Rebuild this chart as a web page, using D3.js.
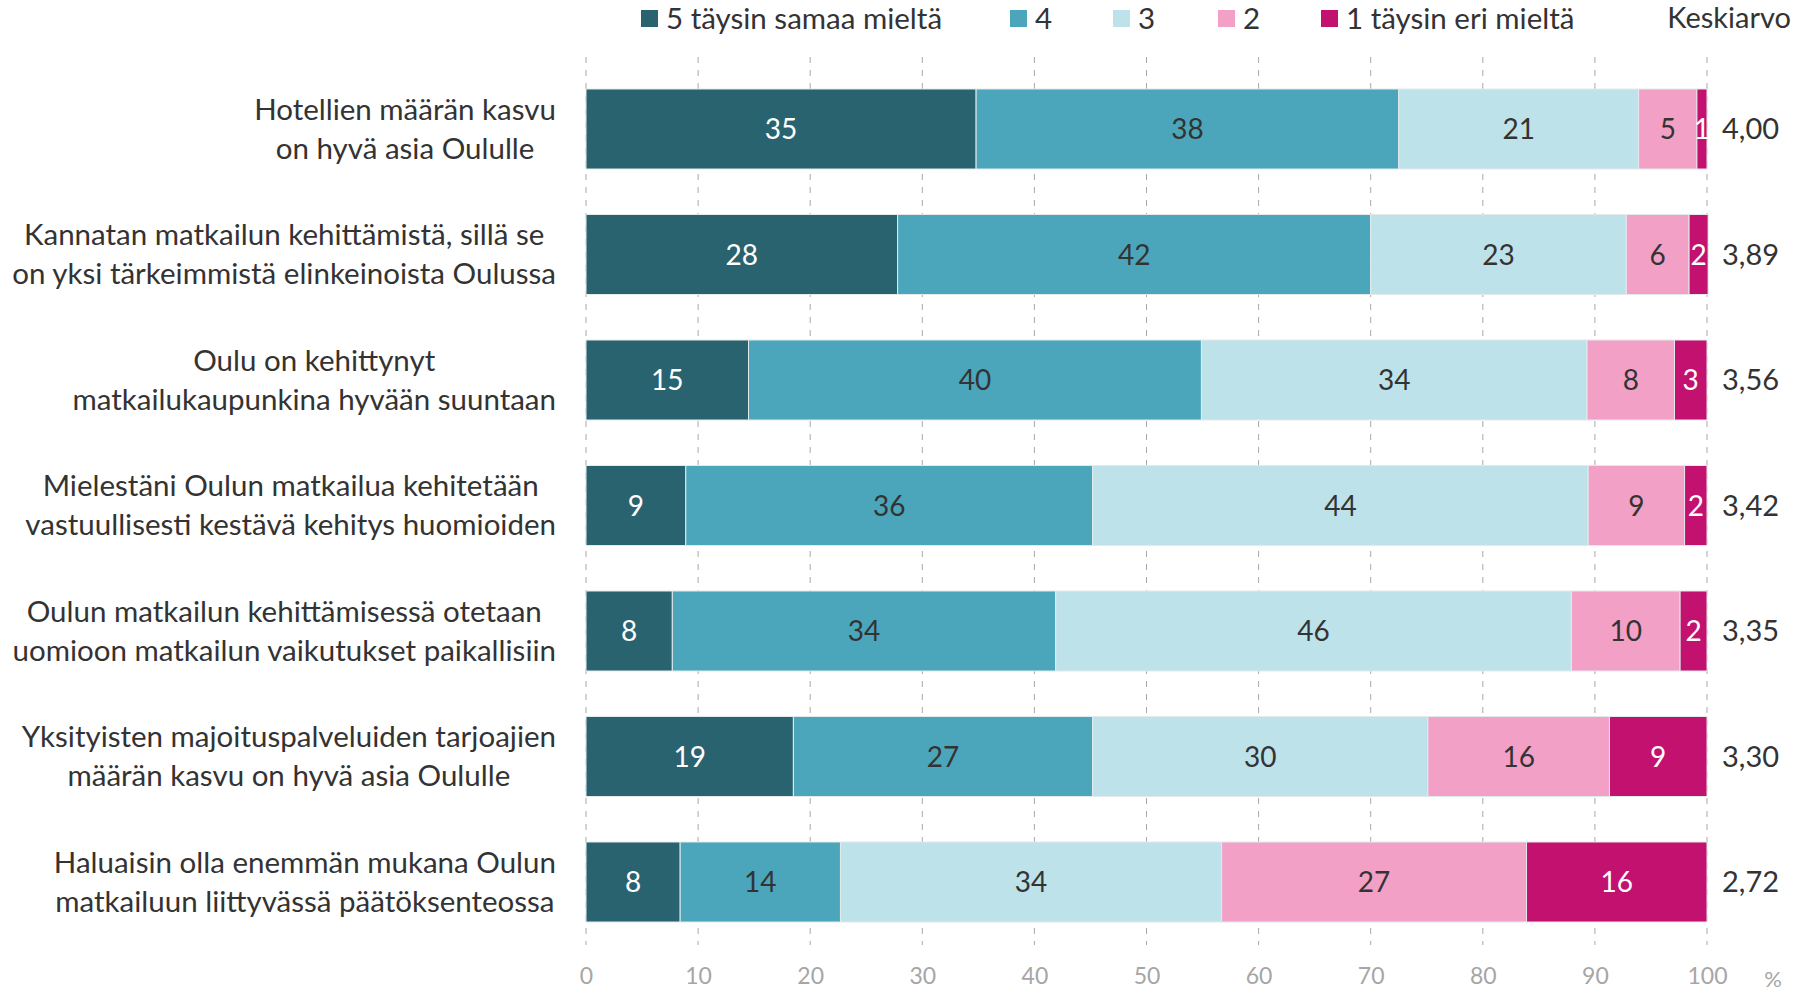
<!DOCTYPE html>
<html>
<head>
<meta charset="utf-8">
<script src="https://cdn.jsdelivr.net/npm/d3@7"></script>
<style>
  body { margin: 0; background: #fff; }
  svg { font-family: Lato, "Open Sans", sans-serif; }
</style>
</head>
<body>
<svg id="chart" width="1794" height="994"></svg>
<script>
// väittämät (kaksi riviä kukin)
const statements = [
  ["Hotellien määrän kasvu", "on hyvä asia Oululle"],
  ["Kannatan matkailun kehittämistä, sillä se", "on yksi tärkeimmistä elinkeinoista Oulussa"],
  ["Oulu on kehittynyt", "matkailukaupunkina hyvään suuntaan"],
  ["Mielestäni Oulun matkailua kehitetään", "vastuullisesti kestävä kehitys huomioiden"],
  ["Oulun matkailun kehittämisessä otetaan", "uomioon matkailun vaikutukset paikallisiin"],
  ["Yksityisten majoituspalveluiden tarjoajien", "määrän kasvu on hyvä asia Oululle"],
  ["Haluaisin olla enemmän mukana Oulun", "matkailuun liittyvässä päätöksenteossa"]
];

const seriesNames = ["5 täysin samaa mieltä", "4", "3", "2", "1 täysin eri mieltä"];
const seriesColors = ["#2a6370", "#4ba6bc", "#bde2ea", "#f3a0c7", "#c2116e"];

// osuudet (%) järjestyksessä 5,4,3,2,1
const s5 = [34.8, 27.8, 14.5, 8.9, 7.7, 18.5, 8.4];
const s4 = [37.7, 42.2, 40.4, 36.3, 34.2, 26.7, 14.3];
const s3 = [21.4, 22.8, 34.4, 44.2, 46.0, 29.9, 34.0];
const s2 = [5.2, 5.6, 7.8, 8.6, 9.7, 16.2, 27.2];
const s1 = [0.9, 1.7, 2.9, 2.0, 2.4, 8.7, 16.1];

const averages = ["4,00", "3,89", "3,56", "3,42", "3,35", "3,30", "2,72"];
const xTicks = [0, 10, 20, 30, 40, 50, 60, 70, 80, 90, 100];

const svg = d3.select("#chart");

const x = d3.scaleLinear().domain([0, 100]).range([586, 1707]);
const y = d3.scaleBand()
  .domain(d3.range(statements.length))
  .range([66.25, 944.75])
  .paddingInner(0.3625)
  .paddingOuter(0.18125);

const rows = statements.map((s, i) => ({ i, vals: [s5[i], s4[i], s3[i], s2[i], s1[i]] }));

// pystyviivat
svg.append("g")
  .selectAll("line")
  .data(xTicks)
  .join("line")
  .attr("x1", d => x(d)).attr("x2", d => x(d))
  .attr("y1", 57).attr("y2", 945)
  .attr("stroke", "#a8a8a8")
  .attr("stroke-width", 1)
  .attr("stroke-dasharray", "6,7");

// palkit
rows.forEach(r => {
  let cum = 0;
  const segs = r.vals.map((v, k) => {
    const seg = { k, x0: cum, x1: cum + v, v };
    cum += v;
    return seg;
  });
  const g = svg.append("g");
  g.selectAll("rect")
    .data(segs)
    .join("rect")
    .attr("x", d => x(d.x0))
    .attr("y", y(r.i))
    .attr("width", d => x(d.x1) - x(d.x0))
    .attr("height", y.bandwidth())
    .attr("fill", d => seriesColors[d.k])
    .attr("stroke", "#e3eaec")
    .attr("stroke-width", 1);

  g.selectAll("text")
    .data(segs)
    .join("text")
    .attr("x", d => (x(d.x0) + x(d.x1)) / 2)
    .attr("y", y(r.i) + y.bandwidth() / 2)
    .attr("dy", "0.36em")
    .attr("text-anchor", "middle")
    .attr("font-size", 28)
    .attr("fill", d => (d.k === 0 || d.k === 4) ? "#fff" : "#333")
    .text(d => Math.round(d.v));

  // keskiarvo
  svg.append("text")
    .attr("x", 1722)
    .attr("y", y(r.i) + y.bandwidth() / 2)
    .attr("dy", "0.36em")
    .attr("font-size", 29)
    .attr("fill", "#333")
    .text(averages[r.i]);

  // väittämä
  const t = svg.append("text")
    .attr("text-anchor", "middle")
    .attr("font-size", 29.5)
    .attr("fill", "#333");
  statements[r.i].forEach((line, j) => {
    t.append("tspan")
      .attr("x", 0)
      .attr("y", y(r.i) + y.bandwidth() / 2 - 20 + j * 39)
      .attr("dy", "0.36em")
      .text(line);
  });
  // keskitetään rivit, oikea reuna 556
  const bb = t.node().getBBox();
  t.attr("transform", `translate(${556 - bb.width / 2},0)`);
});

// x-akseli
const xAxis = svg.append("g")
  .attr("transform", "translate(0,968)")
  .call(d3.axisBottom(x).tickValues(xTicks).tickSize(0).tickPadding(0));
xAxis.select(".domain").remove();
xAxis.selectAll("text")
  .attr("font-family", "'Liberation Sans Narrow', Lato, sans-serif")
  .attr("font-size", 23)
  .attr("fill", "#a6a6a6");

svg.append("text")
  .attr("x", 1773).attr("y", 979)
  .attr("dy", "0.36em")
  .attr("text-anchor", "middle")
  .attr("font-family", "'Liberation Sans Narrow', Lato, sans-serif")
  .attr("font-size", 22)
  .attr("fill", "#a6a6a6")
  .text("%");

// selite
const legendX = [641, 1010, 1113, 1218, 1321];
const legend = svg.append("g")
  .selectAll("g")
  .data(seriesNames)
  .join("g")
  .attr("transform", (d, i) => `translate(${legendX[i]},18)`);
legend.append("rect")
  .attr("x", 0).attr("y", -8)
  .attr("width", 17).attr("height", 17)
  .attr("fill", (d, i) => seriesColors[i]);
legend.append("text")
  .attr("x", 25).attr("y", 0)
  .attr("dy", "0.36em")
  .attr("font-size", 29.5)
  .attr("fill", "#333")
  .text(d => d);

svg.append("text")
  .attr("x", 1791).attr("y", 18)
  .attr("dy", "0.36em")
  .attr("text-anchor", "end")
  .attr("font-size", 29)
  .attr("fill", "#333")
  .text("Keskiarvo");
</script>
</body>
</html>
